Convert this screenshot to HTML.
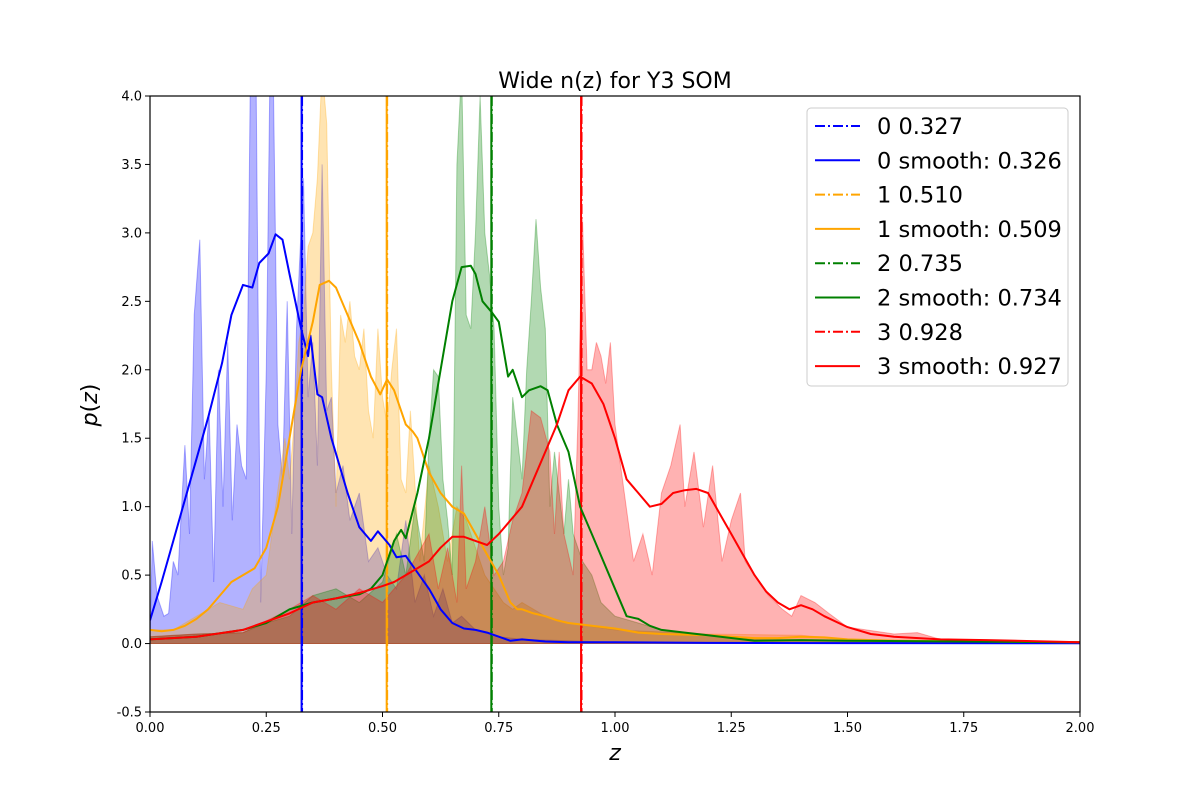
<!DOCTYPE html>
<html><head><meta charset="utf-8">
<style>
html,body{margin:0;padding:0;background:#fff;}
svg text{font-family:"DejaVu Sans","Liberation Sans",sans-serif;}
</style></head>
<body>
<svg id="chart" xmlns="http://www.w3.org/2000/svg" width="1200" height="800" viewBox="0 0 1200 800">
<rect x="0" y="0" width="1200" height="800" fill="#fff"/>
<text x="615" y="88" font-size="22" text-anchor="middle">Wide n(z) for Y3 SOM</text>
<g id="plot"></g>
<text x="615" y="760" font-size="22" font-style="italic" text-anchor="middle">z</text>
<text x="97" y="405" font-size="22" text-anchor="middle" transform="rotate(-90 97 405)"><tspan font-style="italic">p</tspan>(<tspan font-style="italic">z</tspan>)</text>
</svg>
<script>
// ---- data ----
const xTicks = [0, 0.25, 0.5, 0.75, 1.0, 1.25, 1.5, 1.75, 2.0];
const xTickLabels = ["0.00","0.25","0.50","0.75","1.00","1.25","1.50","1.75","2.00"];
const yTicks = [-0.5, 0, 0.5, 1.0, 1.5, 2.0, 2.5, 3.0, 3.5, 4.0];
const yTickLabels = ["-0.5","0.0","0.5","1.0","1.5","2.0","2.5","3.0","3.5","4.0"];

const blueFillZ = [0,.005,.015,.03,.04,.05,.06,.075,.085,.095,.107,.117,.127,.137,.147,.157,.167,.177,.187,.197,.207,.216,.228,.238,.25,.258,.265,.275,.285,.295,.305,.315,.33,.34,.35,.36,.37,.38,.39,.4,.415,.43,.45,.47,.49,.51,.53,.55,.57,.59,.61,.63,.65,.67,.7,.75,.8,.9,1,1.2,2];
const blueFillP = [0,.75,.35,.2,.22,.6,.5,1.45,.8,2.4,2.95,1.2,1.7,.45,2.0,1.0,2.2,.9,1.6,1.3,1.2,4.2,4.2,.3,2.0,4.2,4.2,1.6,1.2,2.5,.8,2.3,3.4,1.8,2.2,1.3,3.5,1.7,1.8,1.1,1.3,.9,1.1,.6,.7,.5,.4,.9,.3,.5,.2,.4,.15,.2,.1,.05,.03,.02,.01,.005,.005];

const orangeFillZ = [0,.05,.1,.15,.2,.22,.25,.27,.29,.3,.31,.32,.33,.34,.35,.36,.37,.38,.39,.4,.41,.42,.43,.44,.45,.46,.47,.48,.49,.5,.51,.52,.53,.54,.55,.56,.58,.6,.62,.64,.66,.68,.7,.72,.74,.76,.78,.8,.85,.9,1,1.2,1.4,1.5,2];
const orangeFillP = [.1,.1,.2,.3,.25,.4,.5,1.0,1.5,1.2,1.6,2.2,2.4,2.9,3.0,3.4,4.2,3.8,2.0,1.0,2.4,2.2,2.5,2.1,2.0,2.3,1.7,1.5,2.3,1.8,1.6,2.0,2.3,1.2,1.1,1.7,.6,1.3,1.0,.6,1.0,.9,.7,.5,.4,.3,.25,.3,.2,.15,.1,.07,.06,.03,.01];

const greenFillZ = [0,.1,.2,.25,.3,.35,.4,.45,.5,.53,.55,.57,.59,.6,.61,.62,.63,.64,.65,.66,.67,.68,.69,.7,.71,.72,.73,.74,.75,.76,.77,.78,.79,.8,.81,.82,.83,.84,.85,.86,.87,.88,.89,.9,.91,.93,.95,.97,1,1.05,1.1,1.2,1.3,1.5,2];
const greenFillP = [.05,.07,.08,.15,.2,.35,.4,.3,.45,.8,.5,1.0,.6,1.5,2.0,1.95,1.2,.9,.5,3.5,4.2,2.4,2.3,3.0,4.0,3.0,2.7,2.3,1.0,.5,.7,1.8,1.5,1.2,2.0,2.5,3.1,2.6,2.3,1.0,1.4,1.1,.8,1.2,.8,.6,.5,.3,.2,.15,.1,.06,.03,.02,.01];

const redFillZ = [0,.1,.2,.3,.35,.4,.45,.5,.55,.6,.62,.64,.66,.67,.68,.7,.72,.74,.76,.78,.8,.82,.84,.86,.87,.88,.89,.91,.92,.93,.94,.95,.96,.97,.98,.99,1,1.02,1.04,1.06,1.08,1.1,1.12,1.14,1.15,1.17,1.19,1.21,1.23,1.25,1.27,1.28,1.3,1.33,1.36,1.38,1.4,1.43,1.46,1.5,1.6,1.65,1.7,1.8,2];
const redFillP = [.05,.07,.08,.25,.35,.25,.4,.3,.5,.8,.4,.7,.3,1.3,.4,.6,1.0,.5,.6,.9,1.1,1.7,1.65,1.4,.8,1.4,.8,.5,1.6,3.1,2.0,2.0,2.2,2.1,1.9,2.2,1.6,1.1,.6,.8,.5,1.1,1.3,1.6,1.0,1.4,.85,1.3,.6,.9,1.1,.6,.5,.35,.25,.2,.35,.3,.22,.12,.07,.08,.03,.02,.01];

const blueSmoothZ = [0,.025,.05,.075,.1,.125,.14,.155,.175,.2,.22,.235,.255,.27,.285,.3,.325,.34,.345,.36,.37,.39,.425,.45,.475,.49,.515,.53,.55,.575,.6,.625,.65,.675,.7,.725,.75,.775,.8,.85,.9,1.0,1.2,1.5,2.0];
const blueSmoothP = [.17,.45,.75,1.05,1.35,1.65,1.85,2.05,2.4,2.62,2.6,2.78,2.85,2.99,2.95,2.7,2.3,2.1,2.25,1.82,1.8,1.5,1.1,.85,.75,.82,.72,.63,.64,.52,.4,.25,.15,.11,.1,.08,.05,.02,.03,.015,.01,.01,.005,.003,.002];

const orangeSmoothZ = [0,.025,.05,.075,.1,.125,.15,.175,.2,.225,.25,.275,.3,.325,.35,.365,.385,.4,.425,.45,.475,.495,.51,.525,.55,.565,.575,.6,.625,.65,.675,.7,.725,.75,.775,.79,.8,.825,.85,.875,.9,.95,1,1.05,1.1,1.2,1.3,1.35,1.4,1.45,1.5,1.6,2];
const orangeSmoothP = [.1,.09,.1,.13,.18,.25,.35,.45,.5,.55,.7,1,1.5,2,2.35,2.62,2.65,2.6,2.4,2.2,1.95,1.82,1.93,1.85,1.6,1.55,1.5,1.25,1.1,1,.95,.8,.65,.5,.3,.25,.25,.22,.2,.17,.15,.13,.11,.08,.07,.06,.04,.04,.05,.045,.03,.02,.01];

const greenSmoothZ = [0,.1,.2,.25,.3,.35,.4,.45,.475,.5,.525,.54,.55,.575,.6,.625,.65,.67,.69,.7,.715,.735,.75,.77,.78,.8,.815,.84,.855,.875,.9,.925,.95,.975,1,1.025,1.05,1.075,1.1,1.15,1.2,1.3,1.4,1.5,2];
const greenSmoothP = [.03,.05,.1,.15,.25,.3,.33,.36,.4,.5,.75,.83,.77,1.1,1.5,2.0,2.5,2.75,2.76,2.7,2.5,2.42,2.35,1.95,2.0,1.8,1.85,1.88,1.85,1.6,1.4,1.0,.8,.6,.4,.2,.18,.13,.1,.08,.06,.02,.025,.02,.01];

const redSmoothZ = [0,.1,.2,.3,.35,.4,.45,.5,.525,.55,.6,.625,.65,.675,.7,.725,.75,.775,.8,.825,.85,.875,.9,.925,.95,.975,1,1.025,1.05,1.075,1.1,1.125,1.15,1.175,1.2,1.225,1.25,1.275,1.3,1.325,1.35,1.375,1.4,1.425,1.45,1.5,1.55,1.6,1.7,1.8,2];
const redSmoothP = [.03,.05,.1,.22,.3,.33,.37,.42,.45,.5,.6,.7,.78,.78,.75,.72,.8,.9,1.0,1.2,1.4,1.6,1.85,1.95,1.9,1.75,1.5,1.2,1.1,1.0,1.02,1.1,1.12,1.13,1.1,.95,.8,.65,.5,.38,.3,.25,.28,.25,.2,.12,.07,.05,.03,.025,.01];

const meanLabels = ["0 0.327","0 smooth: 0.326","1 0.510","1 smooth: 0.509","2 0.735","2 smooth: 0.734","3 0.928","3 smooth: 0.927"];
const meanValues = [0.327, 0.326, 0.510, 0.509, 0.735, 0.734, 0.928, 0.927];
const meanColors = ["blue","blue","orange","orange","green","green","red","red"];
const meanDashed = [true,false,true,false,true,false,true,false];

// ---- axes ----
const X0=150, X1=1080, Y0=712, Y1=96;
const xMin=0, xMax=2, yMin=-0.5, yMax=4;
const sx = v => X0 + (v-xMin)/(xMax-xMin)*(X1-X0);
const sy = v => Y0 - (v-yMin)/(yMax-yMin)*(Y0-Y1);
const NS="http://www.w3.org/2000/svg";
const plot=document.getElementById('plot');
function mk(tag, attrs, parent){const e=document.createElementNS(NS,tag);for(const k in attrs)e.setAttribute(k,attrs[k]);(parent||plot).appendChild(e);return e;}

const clip=mk('clipPath',{id:'pc'});
mk('rect',{x:X0,y:Y1,width:X1-X0,height:Y0-Y1},clip);
const gData=mk('g',{'clip-path':'url(#pc)'});



function fillPath(zs,ps,color,name){
  const n=Math.min(zs.length,ps.length);
  let d=`M${sx(zs[0])},${sy(0)}`;
  for(let i=0;i<n;i++) d+=` L${sx(zs[i]).toFixed(1)},${sy(ps[i]).toFixed(1)}`;
  d+=` L${sx(zs[n-1])},${sy(0)} Z`;
  const p=mk('path',{d:d,fill:color,'fill-opacity':0.3,stroke:color,'stroke-opacity':0.3,'stroke-width':1},gData);
  
  
}
function linePath(zs,ps,color,name){
  const n=Math.min(zs.length,ps.length);
  let d='';
  for(let i=0;i<n;i++) d+=(i?' L':'M')+sx(zs[i]).toFixed(1)+','+sy(ps[i]).toFixed(1);
  const p=mk('path',{d:d,fill:'none',stroke:color,'stroke-width':2,'stroke-linejoin':'round'},gData);
  
  
}
fillPath(blueFillZ,blueFillP,'blue','fill-bin-0');
fillPath(orangeFillZ,orangeFillP,'orange','fill-bin-1');
fillPath(greenFillZ,greenFillP,'green','fill-bin-2');
fillPath(redFillZ,redFillP,'red','fill-bin-3');

for(let i=0;i<meanValues.length;i++){
  const l=mk('line',{x1:sx(meanValues[i]),x2:sx(meanValues[i]),y1:Y1,y2:Y0,stroke:meanColors[i],'stroke-width':2},gData);
  if(meanDashed[i]) l.setAttribute('stroke-dasharray','10,3,2,3');
  
  
}

linePath(blueSmoothZ,blueSmoothP,'blue','smooth-bin-0');
linePath(orangeSmoothZ,orangeSmoothP,'orange','smooth-bin-1');
linePath(greenSmoothZ,greenSmoothP,'green','smooth-bin-2');
linePath(redSmoothZ,redSmoothP,'red','smooth-bin-3');

// frame
const frame=mk('rect',{x:X0,y:Y1,width:X1-X0,height:Y0-Y1,fill:'none',stroke:'#000','stroke-width':1.2});



// ticks
for(let i=0;i<xTicks.length;i++){
  const x=sx(xTicks[i]);
  const t=mk('line',{x1:x,x2:x,y1:Y0,y2:Y0+5,stroke:'#000','stroke-width':1});
  
  
  const tx=mk('text',{x:x,y:Y0+20,'font-size':13,'text-anchor':'middle'});
  tx.textContent=xTickLabels[i];
  
  
}
for(let i=0;i<yTicks.length;i++){
  const y=sy(yTicks[i]);
  const t=mk('line',{x1:X0-5,x2:X0,y1:y,y2:y,stroke:'#000','stroke-width':1});
  
  
  const tx=mk('text',{x:X0-8,y:y+4.5,'font-size':13,'text-anchor':'end'});
  tx.textContent=yTickLabels[i];
  
  
}

// legend
const leg=mk('g',{});


mk('rect',{x:807,y:108,width:261,height:278,rx:4,fill:'#fff','fill-opacity':0.8,stroke:'#ccc','stroke-width':1},leg);
for(let i=0;i<meanLabels.length;i++){
  const cy=126+i*34.3;
  const l=mk('line',{x1:815,x2:860,y1:cy,y2:cy,stroke:meanColors[i],'stroke-width':2},leg);
  if(meanDashed[i]) l.setAttribute('stroke-dasharray','10,3,2,3');
  
  
  const t=mk('text',{x:877,y:cy+8,'font-size':22.5},leg);
  t.textContent=meanLabels[i];
  
  
}
</script>
</body></html>
